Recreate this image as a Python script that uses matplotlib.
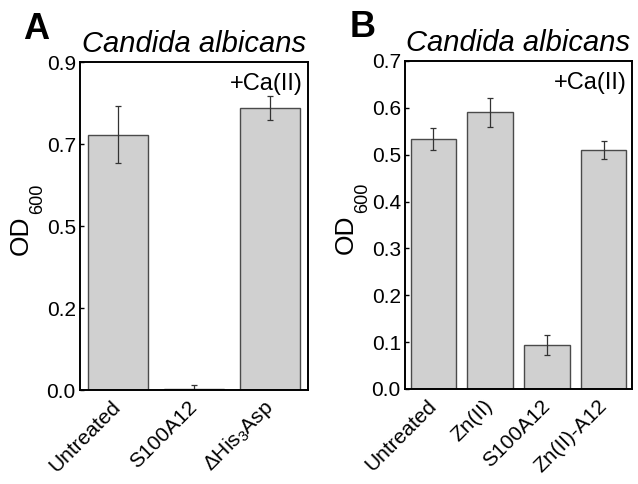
import numpy as np
import matplotlib
matplotlib.use('Agg')
import matplotlib.pyplot as plt
from matplotlib.ticker import FormatStrFormatter

plt.rcParams['font.family'] = ['Liberation Sans', 'DejaVu Sans']
plt.rcParams['mathtext.fontset'] = 'custom'
plt.rcParams['mathtext.rm'] = 'Liberation Sans'
plt.rcParams['mathtext.it'] = 'Liberation Sans:italic'

# panel A
labels_a = ['Untreated', 'S100A12', r'$\Delta$His$_3$Asp']
od_a = [0.700, 0.003, 0.774]
err_a = [0.078, 0.010, 0.033]

# panel B
labels_b = ['Untreated', 'Zn(II)', 'S100A12', 'Zn(II)-A12']
od_b = [0.534, 0.591, 0.094, 0.510]
err_b = [0.023, 0.031, 0.021, 0.020]

BAR = '#d0d0d0'
EDGE = '#4a4a4a'


def draw_panel(ax, labels, vals, errs, ymax):
    x = np.arange(len(vals))
    ax.bar(x, vals, width=0.8, color=BAR, edgecolor=EDGE, linewidth=1.0)
    ax.errorbar(x, vals, yerr=errs, fmt='none', ecolor='#333333',
                elinewidth=0.9, capsize=2.5, capthick=0.9)
    ax.set_xlim(-0.5, len(vals) - 0.5)
    ax.set_ylim(0, ymax)
    ax.set_xticks(x)
    ax.set_xticklabels(labels, rotation=45, ha='right', va='center',
                       rotation_mode='anchor', fontsize=15)
    ax.tick_params(axis='x', length=0, pad=10)
    ax.tick_params(axis='y', direction='in', length=3, width=1, labelsize=15, pad=3)
    ax.yaxis.set_major_formatter(FormatStrFormatter('%.1f'))
    for s in ax.spines.values():
        s.set_linewidth(1.4)
    ax.set_title('Candida albicans', fontsize=21, style='italic', pad=7)
    ax.text(0.975, 0.965, '+Ca(II)', transform=ax.transAxes, ha='right', va='top',
            fontsize=17)
    # y label: OD with a deep 600 subscript
    ax.annotate('OD', xy=(0, 0.473), xycoords='axes fraction',
                xytext=(-59, 0), textcoords='offset pixels', rotation=90,
                ha='center', va='center', fontsize=19)
    ax.annotate('600', xy=(0, 0.582), xycoords='axes fraction',
                xytext=(-42, 0), textcoords='offset pixels', rotation=90,
                ha='center', va='center', fontsize=13)


fig = plt.figure(figsize=(6.38, 4.84), dpi=100)
ax1 = fig.add_axes([0.1254, 0.1942, 0.3574, 0.6777])
ax2 = fig.add_axes([0.6348, 0.1963, 0.3558, 0.6777])

draw_panel(ax1, labels_a, od_a, err_a, 0.9)
ax1.set_yticks(np.linspace(0, 0.9, 5))
draw_panel(ax2, labels_b, od_b, err_b, 0.7)
ax2.set_yticks(np.arange(0, 0.71, 0.1))

fig.text(0.036, 0.919, 'A', fontsize=26, fontweight='bold', va='baseline')
fig.text(0.5486, 0.9236, 'B', fontsize=26, fontweight='bold', va='baseline')

fig.savefig('out.png', dpi=100)
